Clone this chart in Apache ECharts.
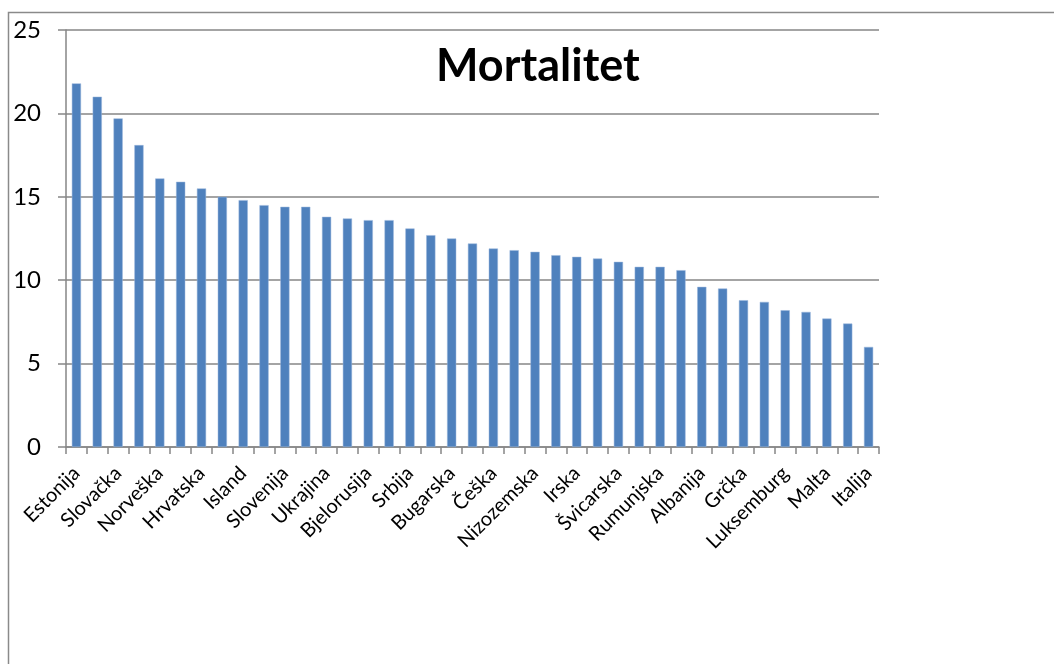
<!DOCTYPE html>
<html>
<head>
<meta charset="utf-8">
<script src="https://cdn.jsdelivr.net/npm/echarts@6/dist/echarts.min.js"></script>
<style>
html,body{margin:0;padding:0;background:#fff;}
#chart{width:1054px;height:664px;}
</style>
</head>
<body>
<div id="chart"></div>
<script>
// Categories (only every second name is shown on the axis in the reference)
const countries = [
  'Estonija','Latvija','Slovačka','Litva','Norveška','Mađarska','Hrvatska','Finska',
  'Island','Poljska','Slovenija','Rusija','Ukrajina','Belgija','Bjelorusija','Danska',
  'Srbija','Francuska','Bugarska','Austrija','Češka','Njemačka','Nizozemska','Portugal',
  'Irska','Švedska','Švicarska','Španjolska','Rumunjska','Moldavija','Albanija','Makedonija',
  'Grčka','Cipar','Luksemburg','Ujedinjeno Kraljevstvo','Malta','Bosna i Hercegovina','Italija'
];
const mortalitet = [
  21.8, 21.0, 19.7, 18.1, 16.1, 15.9, 15.5, 15.0,
  14.8, 14.5, 14.4, 14.4, 13.8, 13.7, 13.6, 13.6,
  13.1, 12.7, 12.5, 12.2, 11.9, 11.8, 11.7, 11.5,
  11.4, 11.3, 11.1, 10.8, 10.8, 10.6, 9.6, 9.5,
  8.8, 8.7, 8.2, 8.1, 7.7, 7.4, 6.0
];
const yTicks = [0, 5, 10, 15, 20, 25];
const chartTitle = 'Mortalitet';

const chart = echarts.init(document.getElementById('chart'), null, {renderer: 'canvas'});
const FONT = 'Lato';
chart.setOption({
  backgroundColor: '#ffffff',
  animation: false,
  title: {
    text: chartTitle,
    left: 431,
    top: 39,
    textStyle: {fontFamily: FONT, fontWeight: 'bold', fontSize: 45, color: '#000'}
  },
  graphic: [{
    type: 'rect',
    shape: {x: 8.5, y: 12.5, width: 1200, height: 800},
    style: {fill: 'none', stroke: '#8a8a8a', lineWidth: 1.5},
    silent: true, z: -1
  }],
  grid: {left: 66, right: 175, top: 30, bottom: 217, containLabel: false},
  xAxis: {
    type: 'category',
    data: countries,
    boundaryGap: true,
    axisLine: {show: true, lineStyle: {color: '#868686', width: 1.5}},
    axisTick: {show: true, interval: 0, length: 7, lineStyle: {color: '#868686', width: 1.5}},
    axisLabel: {interval: 1, rotate: 45, margin: 23, fontFamily: FONT, fontSize: 20, color: '#000'},
    splitLine: {show: false}
  },
  yAxis: {
    type: 'value',
    min: yTicks[0],
    max: yTicks[yTicks.length - 1],
    interval: 5,
    axisLine: {show: true, lineStyle: {color: '#868686', width: 1.5}},
    axisTick: {show: true, length: 8, lineStyle: {color: '#868686', width: 1.5}},
    axisLabel: {margin: 25, fontFamily: FONT, fontSize: 24, color: '#000'},
    splitLine: {show: true, lineStyle: {color: '#868686', width: 1.5}}
  },
  series: [{
    type: 'bar',
    name: chartTitle,
    data: mortalitet,
    barCategoryGap: '56%',
    itemStyle: {color: '#4F81BD', borderColor: '#9bb7dc', borderWidth: 0.5}
  }]
});
</script>
</body>
</html>
